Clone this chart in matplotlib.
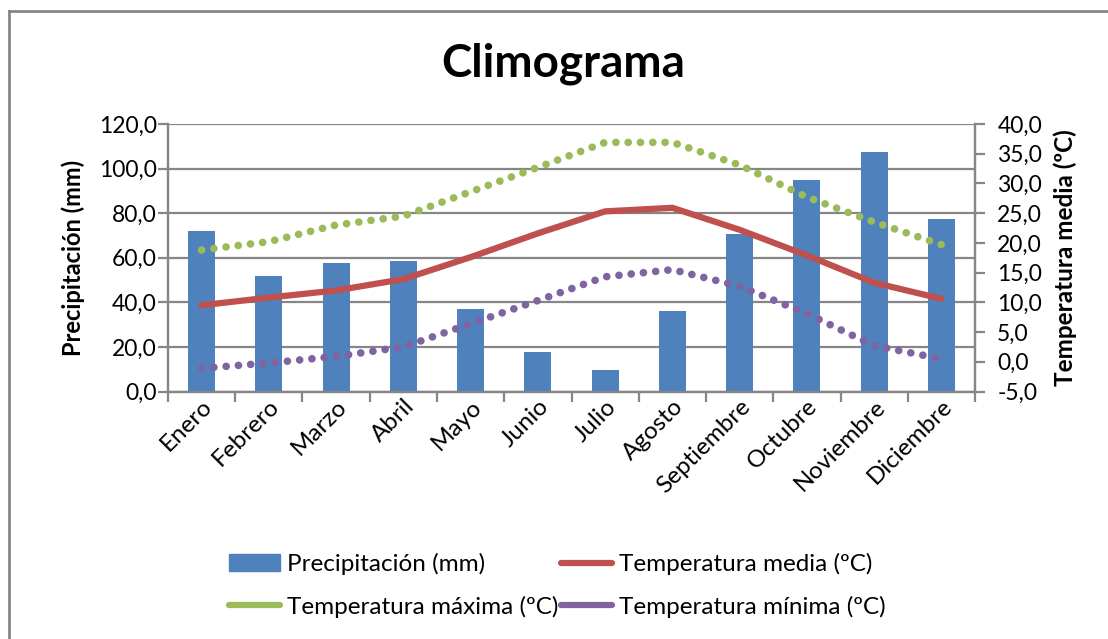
import matplotlib.pyplot as plt
from matplotlib.ticker import FuncFormatter, MultipleLocator
from matplotlib.lines import Line2D
from matplotlib.patches import Patch

plt.rcParams['font.family'] = ['Lato', 'DejaVu Sans']

meses = ['Enero', 'Febrero', 'Marzo', 'Abril', 'Mayo', 'Junio', 'Julio',
         'Agosto', 'Septiembre', 'Octubre', 'Noviembre', 'Diciembre']
precipitacion = [72.0, 51.7, 57.8, 58.5, 37.0, 17.5, 9.8, 36.0, 70.5, 94.7, 107.3, 77.5]
t_media = [9.5, 10.8, 12.0, 13.9, 17.6, 21.6, 25.3, 25.9, 22.2, 17.9, 13.3, 10.6]
t_max = [18.8, 20.2, 23.0, 24.5, 28.6, 32.7, 36.9, 36.9, 33.1, 27.7, 23.5, 19.7]
t_min = [-1.1, -0.2, 0.9, 2.5, 6.4, 10.3, 14.3, 15.5, 12.7, 8.1, 2.7, 0.5]

azul = '#4f81bd'
rojo = '#c0504d'
verde = '#9bbb59'
morado = '#8064a2'
gris = '#868686'

fig = plt.figure(figsize=(11.08, 6.39), dpi=100)
ax = fig.add_axes([0.1516, 0.3873, 0.7284, 0.4187])
ax2 = ax.twinx()

x = list(range(len(meses)))
ax.bar(x, precipitacion, width=0.4, color=azul, zorder=2)
ax.set_xlim(-0.5, 11.5)
ax.set_ylim(0, 120)
ax.yaxis.set_major_locator(MultipleLocator(20))
ax.grid(axis='y', color=gris, linewidth=1.6, zorder=0)
ax.set_axisbelow(True)

ax2.plot(x, t_media, color=rojo, linewidth=4.5, solid_capstyle='round', zorder=3)
ax2.plot(x, t_max, color=verde, linewidth=5.5, linestyle=(0, (0.01, 1.6)),
         dash_capstyle='round', zorder=3)
ax2.plot(x, t_min, color=morado, linewidth=5.5, linestyle=(0, (0.01, 1.6)),
         dash_capstyle='round', zorder=3)
ax2.set_ylim(-5, 40)
ax2.yaxis.set_major_locator(MultipleLocator(5))

fmt = FuncFormatter(lambda v, p: f"{v:.1f}".replace('.', ','))
ax.yaxis.set_major_formatter(fmt)
ax2.yaxis.set_major_formatter(fmt)

ax.set_xticks([i - 0.5 for i in range(13)], minor=False)
ax.set_xticklabels([])
ax.set_xticks(x, minor=True)
ax.set_xticklabels(meses, minor=True, rotation=45, ha='right',
                   rotation_mode='anchor', fontsize=17.5)
ax.tick_params(axis='x', which='minor', length=0, pad=3)
ax.tick_params(axis='x', which='major', length=7, width=1.6, color=gris)
ax.tick_params(axis='y', length=7, width=1.6, color=gris, labelsize=16.5, pad=1)
ax2.tick_params(axis='y', length=7, width=1.6, color=gris, labelsize=16.5, pad=9)

for a in (ax, ax2):
    a.spines['top'].set_visible(False)
    for side in ('left', 'right', 'bottom'):
        a.spines[side].set_color(gris)
        a.spines[side].set_linewidth(1.6)

ax.set_ylabel('Precipitación (mm)', fontsize=17, fontweight='bold', labelpad=10)
ax2.set_ylabel('Temperatura media (ºC)', fontsize=17.5, fontweight='bold', labelpad=8)

fig.text(0.508, 0.9, 'Climograma', fontsize=33, fontweight='bold',
         ha='center', va='center')

# orden por columnas: precip / media en la primera fila
handles = [Patch(color=azul),
           Line2D([], [], color=verde, linewidth=4.5, solid_capstyle='round'),
           Line2D([], [], color=rojo, linewidth=4.5, solid_capstyle='round'),
           Line2D([], [], color=morado, linewidth=4.5, solid_capstyle='round')]
labels = ['Precipitación (mm)', 'Temperatura máxima (ºC)',
          'Temperatura media (ºC)', 'Temperatura mínima (ºC)']
fig.legend(handles, labels, ncol=2, loc='center', bbox_to_anchor=(0.503, 0.0837),
           frameon=False, fontsize=17.5, handlelength=2.1, handletextpad=0.3,
           columnspacing=0.1, labelspacing=0.85)

fig.add_artist(Line2D([0.0085, 0.0085], [0.0, 0.983], transform=fig.transFigure,
                      color=gris, linewidth=2))
fig.add_artist(Line2D([0.0085, 1.0], [0.983, 0.983], transform=fig.transFigure,
                      color=gris, linewidth=2))

fig.savefig('out.png', dpi=100)
